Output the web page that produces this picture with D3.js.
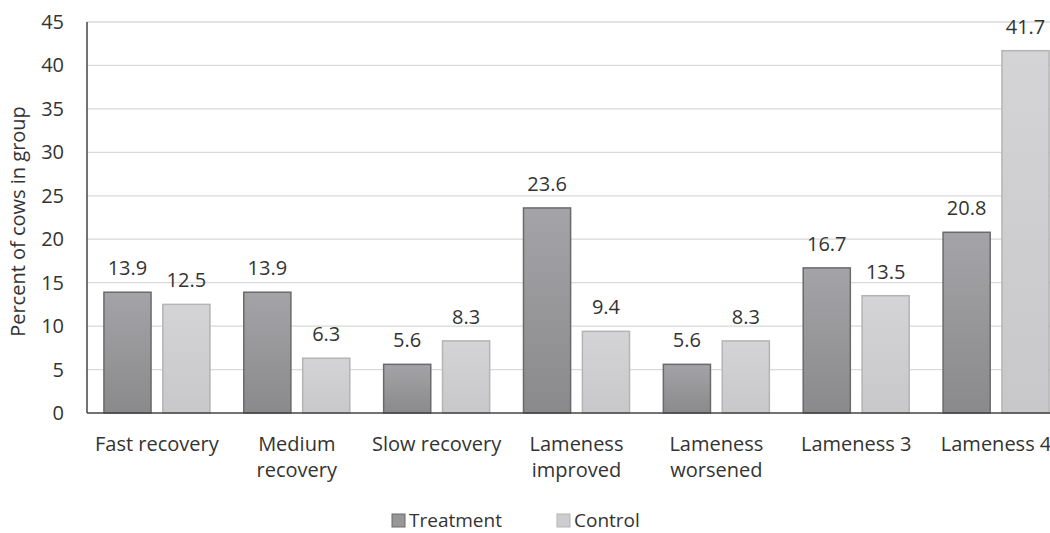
<!DOCTYPE html>
<html>
<head>
<meta charset="utf-8">
<script src="https://cdn.jsdelivr.net/npm/d3@7"></script>
<style>
  body { margin: 0; background: #fff; }
  svg { display: block; font-family: "Open Sans", "Noto Sans", sans-serif; }
</style>
</head>
<body>
<div id="chart"></div>
<script>
const categories = [
  ["Fast recovery"],
  ["Medium", "recovery"],
  ["Slow recovery"],
  ["Lameness", "improved"],
  ["Lameness", "worsened"],
  ["Lameness 3"],
  ["Lameness 4"]
];
const seriesNames = ["Treatment", "Control"];
const treatment = [13.9, 13.9, 5.6, 23.6, 5.6, 16.7, 20.8];
const control = [12.5, 6.3, 8.3, 9.4, 8.3, 13.5, 41.7];
const yTicks = [0, 5, 10, 15, 20, 25, 30, 35, 40, 45];

const width = 1050, height = 533;
const MARGIN = { top: 22, left: 87, bottom: 120 };
const plotW = 979; // runs slightly past the right edge, as in the source
const plotH = height - MARGIN.top - MARGIN.bottom;
const FS = 20;

const svg = d3.select("#chart").append("svg")
  .attr("width", width)
  .attr("height", height);

const defs = svg.append("defs");
function grad(id, top, bottom) {
  const g = defs.append("linearGradient").attr("id", id)
    .attr("x1", 0).attr("y1", 0).attr("x2", 0).attr("y2", 1);
  g.append("stop").attr("offset", "0%").attr("stop-color", top);
  g.append("stop").attr("offset", "100%").attr("stop-color", bottom);
}
grad("gTreat", "#a4a4a8", "#8a8a8c");
grad("gCtrl", "#d4d4d6", "#c8c8ca");

const fills = ["url(#gTreat)", "url(#gCtrl)"];
const strokes = ["#6a6a6a", "#b4b4b4"];
const legendFills = ["#979799", "#cdcdcf"];

const x0 = d3.scaleBand()
  .domain(d3.range(categories.length))
  .range([MARGIN.left, MARGIN.left + plotW])
  .paddingInner(0.242)
  .paddingOuter(0.121);

const x1 = d3.scaleBand()
  .domain(seriesNames)
  .range([0, x0.bandwidth()])
  .paddingInner(0.2);

const y = d3.scaleLinear().domain([0, 45]).range([MARGIN.top + plotH, MARGIN.top]);

// gridlines
svg.append("g")
  .selectAll("line")
  .data(yTicks.slice(1))
  .join("line")
  .attr("x1", MARGIN.left).attr("x2", width)
  .attr("y1", d => y(d)).attr("y2", d => y(d))
  .attr("stroke", "#d9d9d9").attr("stroke-width", 1.3);

// y tick labels
svg.append("g")
  .selectAll("text")
  .data(yTicks)
  .join("text")
  .attr("x", 64)
  .attr("y", d => y(d))
  .attr("dy", "0.35em")
  .attr("text-anchor", "end")
  .attr("font-size", FS)
  .attr("fill", "#333")
  .text(d => d);

// y title
svg.append("text")
  .attr("transform", `translate(25,${MARGIN.top + plotH / 2 + 4}) rotate(-90)`)
  .attr("text-anchor", "middle")
  .attr("font-size", 20)
  .attr("fill", "#333")
  .text("Percent of cows in group");

const data = categories.map((c, i) => ({ i, values: [treatment[i], control[i]] }));

const groups = svg.append("g")
  .selectAll("g")
  .data(data)
  .join("g")
  .attr("transform", d => `translate(${x0(d.i)},0)`);

groups.selectAll("rect")
  .data(d => d.values.map((v, k) => ({ k, v })))
  .join("rect")
  .attr("x", d => x1(seriesNames[d.k]))
  .attr("y", d => y(d.v))
  .attr("width", x1.bandwidth())
  .attr("height", d => y(0) - y(d.v))
  .attr("fill", d => fills[d.k])
  .attr("stroke", d => strokes[d.k])
  .attr("stroke-width", 1.5);

groups.selectAll("text.val")
  .data(d => d.values.map((v, k) => ({ k, v })))
  .join("text")
  .attr("class", "val")
  .attr("x", d => x1(seriesNames[d.k]) + x1.bandwidth() / 2)
  .attr("y", d => y(d.v) - 17)
  .attr("text-anchor", "middle")
  .attr("font-size", FS)
  .attr("fill", "#333")
  .text(d => d.v.toFixed(1));

// axes lines
svg.append("line")
  .attr("x1", MARGIN.left).attr("x2", MARGIN.left)
  .attr("y1", MARGIN.top).attr("y2", y(0))
  .attr("stroke", "#444").attr("stroke-width", 1.5);
svg.append("line")
  .attr("x1", MARGIN.left).attr("x2", width)
  .attr("y1", y(0)).attr("y2", y(0))
  .attr("stroke", "#444").attr("stroke-width", 1.5);

// category labels
const catLabels = svg.append("g")
  .selectAll("text")
  .data(categories)
  .join("text")
  .attr("x", (d, i) => x0(i) + x0.bandwidth() / 2)
  .attr("y", 451)
  .attr("text-anchor", "middle")
  .attr("font-size", FS)
  .attr("fill", "#333");
catLabels.selectAll("tspan")
  .data(d => d)
  .join("tspan")
  .attr("x", function() { return this.parentNode.getAttribute("x"); })
  .attr("dy", (d, j) => j === 0 ? 0 : 26)
  .text(d => d);

// legend
const legend = svg.append("g").attr("transform", "translate(392,527)");
const legItems = [{ name: "Treatment", x: 0 }, { name: "Control", x: 165 }];
legItems.forEach((it, k) => {
  legend.append("rect")
    .attr("x", it.x).attr("y", -13)
    .attr("width", 13).attr("height", 13)
    .attr("fill", legendFills[k])
    .attr("stroke", strokes[k]).attr("stroke-width", 1);
  legend.append("text")
    .attr("x", it.x + 17).attr("y", 0)
    .attr("font-size", 19)
    .attr("fill", "#333")
    .text(it.name);
});
</script>
</body>
</html>
